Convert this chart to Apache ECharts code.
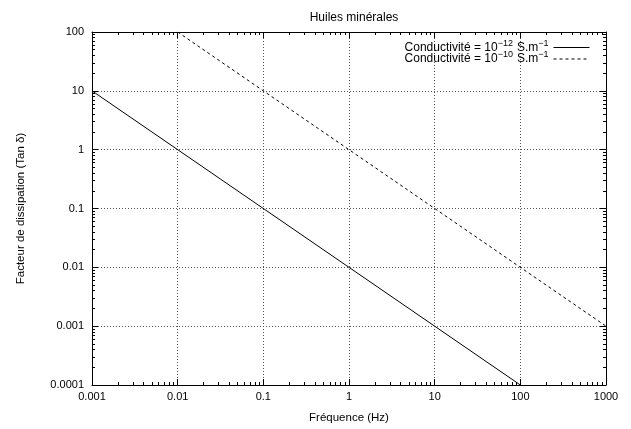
<!DOCTYPE html>
<html>
<head>
<meta charset="utf-8">
<script src="https://cdn.jsdelivr.net/npm/echarts@6/dist/echarts.min.js"></script>
<style>html,body{margin:0;padding:0;background:#fff}#c{width:631px;height:429px}</style>
</head>
<body>
<div id="c"></div>
<script>
const xTickLabels = ['0.001','0.01','0.1','1','10','100','1000'];
const yTickLabels = ['0.0001','0.001','0.01','0.1','1','10','100'];
const minorMultipliers = [2,3,4,5,6,7,8,9];
const freqLow = [0.001, 100];
const tanLow = [10, 0.0001];
const freqHigh = [0.01, 1000];
const tanHigh = [100, 0.001];
const seriesNames = ['low', 'high'];
const legendExponents = ['\u221212', '\u221210'];

const FONT = 'Liberation Sans, Arial, Helvetica, sans-serif';
const xMin = 0.001, xMax = 1000, yMin = 0.0001, yMax = 100;

function minorValues(lo, hi) {
  const out = [];
  for (let e = Math.round(Math.log10(lo)); e < Math.round(Math.log10(hi)); e++) {
    minorMultipliers.forEach(m => out.push(+(m * Math.pow(10, e)).toPrecision(3)));
  }
  return out;
}
const xMinor = minorValues(xMin, xMax);
const yMinor = minorValues(yMin, yMax);

const gridLine = { show: true, lineStyle: { color: '#555', width: 1, type: [1, 2] } };
const lbl = { color: '#000', fontFamily: FONT, fontSize: 11 };

function mainAxis(pos, labels, minV, maxV, showLabel, showSplit) {
  return {
    type: 'log', logBase: 10, min: minV, max: maxV, position: pos,
    axisLine: { show: true, onZero: false, lineStyle: { color: '#000', width: 1 } },
    axisTick: { show: true, inside: true, length: 6, lineStyle: { color: '#000' } },
    axisLabel: showLabel ? Object.assign({
      formatter: v => labels[Math.round(Math.log10(v)) - Math.round(Math.log10(minV))],
      margin: 6
    }, lbl) : { show: false },
    splitLine: showSplit ? gridLine : { show: false },
    minorTick: { show: false }
  };
}
function minorAxis(pos, minV, maxV, vals) {
  return {
    type: 'log', logBase: 10, min: minV, max: maxV, position: pos,
    axisLine: { show: false },
    axisTick: { show: true, inside: true, length: 3, customValues: vals, lineStyle: { color: '#000' } },
    axisLabel: { show: false },
    splitLine: { show: false }
  };
}

const xBottom = mainAxis('bottom', xTickLabels, xMin, xMax, true, true);
xBottom.name = 'Fréquence (Hz)';
xBottom.nameLocation = 'middle';
xBottom.nameGap = 27;
xBottom.nameTextStyle = { color: '#000', fontFamily: FONT, fontSize: 11.5 };
xBottom.axisLabel.margin = 6;

const yLeft = mainAxis('left', yTickLabels, yMin, yMax, true, true);
yLeft.name = 'Facteur de dissipation (Tan \u03b4)';
yLeft.nameLocation = 'middle';
yLeft.nameGap = 65;
yLeft.nameRotate = 90;
yLeft.nameTextStyle = { color: '#000', fontFamily: FONT, fontSize: 11.5 };
yLeft.axisLabel.margin = 8;

const chart = echarts.init(document.getElementById('c'), null, { renderer: 'canvas' });
chart.setOption({
  animation: false,
  backgroundColor: '#fff',
  title: {
    text: 'Huiles minérales', left: 349, top: 7, textAlign: 'center',
    textStyle: { color: '#000', fontFamily: FONT, fontSize: 12, fontWeight: 'normal' }
  },
  grid: { left: 92, right: 25, top: 32, bottom: 37, containLabel: false },
  legend: {
    orient: 'vertical', right: 36, top: 34, align: 'right',
    itemWidth: 36, itemHeight: 6, itemGap: -3,
    data: seriesNames,
    itemStyle: { opacity: 0 },
    lineStyle: { width: 1 },
    formatter: name => {
      const i = seriesNames.indexOf(name);
      return '{a|Conductivité = 10}{s|' + legendExponents[i] + '}{b|S.m}{s|\u22121}';
    },
    textStyle: {
      color: '#000', fontFamily: FONT, fontSize: 12,
      rich: {
        a: { fontFamily: FONT, fontSize: 12, color: '#000' },
        b: { fontFamily: FONT, fontSize: 12, color: '#000', padding: [0, 0, 0, 4] },
        s: { fontFamily: FONT, fontSize: 9, color: '#000', padding: [0, 0, 8, 0] }
      }
    }
  },
  xAxis: [
    xBottom,
    mainAxis('top', xTickLabels, xMin, xMax, false, false),
    minorAxis('bottom', xMin, xMax, xMinor),
    minorAxis('top', xMin, xMax, xMinor)
  ],
  yAxis: [
    yLeft,
    mainAxis('right', yTickLabels, yMin, yMax, false, false),
    minorAxis('left', yMin, yMax, yMinor),
    minorAxis('right', yMin, yMax, yMinor)
  ],
  series: [
    {
      name: seriesNames[0], type: 'line', xAxisIndex: 0, yAxisIndex: 0,
      showSymbol: false, symbol: 'none',
      data: freqLow.map((f, i) => [f, tanLow[i]]),
      lineStyle: { color: '#000', width: 1, type: 'solid' },
      itemStyle: { color: '#000' }
    },
    {
      name: seriesNames[1], type: 'line', xAxisIndex: 0, yAxisIndex: 0,
      showSymbol: false, symbol: 'none',
      data: freqHigh.map((f, i) => [f, tanHigh[i]]),
      lineStyle: { color: '#000', width: 1, type: [3, 3] },
      itemStyle: { color: '#000' }
    }
  ]
});
</script>
</body>
</html>
